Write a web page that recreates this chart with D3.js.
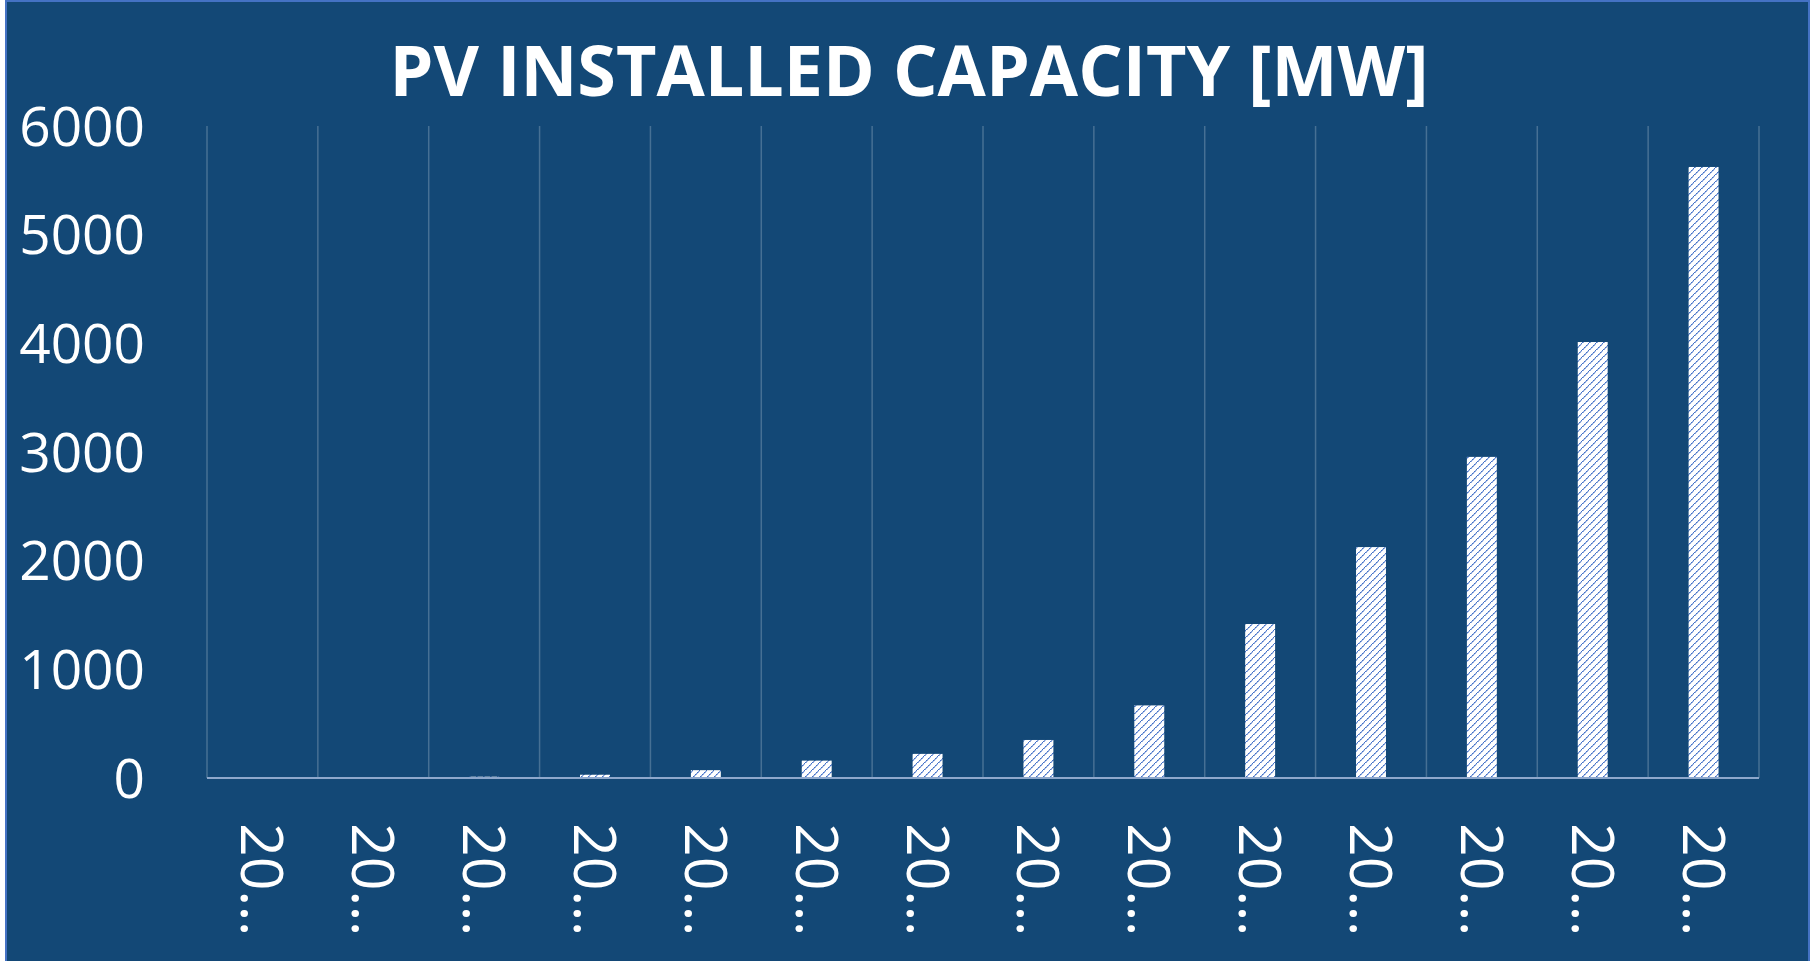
<!DOCTYPE html>
<html>
<head>
<meta charset="utf-8">
<script src="https://cdn.jsdelivr.net/npm/d3@7"></script>
<style>
  html, body { margin: 0; padding: 0; background: #ffffff; }
  svg { display: block; }
</style>
</head>
<body>
<div id="chart"></div>
<script>
const title = 'PV INSTALLED CAPACITY [MW]'
const years = ['2010', '2011', '2012', '2013', '2014', '2015', '2016', '2017', '2018', '2019', '2020', '2021', '2022', '2023']
const capacity = [2, 3, 12, 30, 72, 160, 222, 350, 668, 1417, 2125, 2955, 4012, 5623]
const yTicks = [0, 1000, 2000, 3000, 4000, 5000, 6000]

const w = 1811
const h = 961
const margin = {top: 126, right: 52, bottom: 183, left: 207}

const svg = d3.select('#chart')
    .append('svg')
    .attr('width', w)
    .attr('height', h)

// background + thin frame
svg.append('rect')
    .attr('x', 6)
    .attr('y', 1)
    .attr('width', w - 8)
    .attr('height', h + 10)
    .attr('fill', '#134876')
    .attr('stroke', '#4472c4')
    .attr('stroke-width', 2)

// diagonal hatch like the office "wide upward diagonal" fill
const defs = svg.append('defs')
const pat = defs.append('pattern')
    .attr('id', 'hatch')
    .attr('patternUnits', 'userSpaceOnUse')
    .attr('width', 7)
    .attr('height', 7)
pat.append('rect').attr('width', 7).attr('height', 7).attr('fill', '#ffffff')
d3.range(7).forEach(k => {
    pat.append('rect')
        .attr('x', k)
        .attr('y', 6 - k)
        .attr('width', 1.6)
        .attr('height', 1)
        .attr('fill', k % 2 === 0 ? '#4270c6' : '#7f9fdc')
})

const x = d3.scaleBand()
    .domain(years)
    .range([margin.left, w - margin.right])
    .paddingInner(0)
    .paddingOuter(0)

const y = d3.scaleLinear()
    .domain([0, 6000])
    .range([h - margin.bottom, margin.top])

const g = svg.append('g')

// vertical gridlines at category borders
const borders = years.map(d => x(d)).concat([x(years[years.length - 1]) + x.bandwidth()])
g.selectAll('.grid')
    .data(borders)
    .enter()
    .append('line')
    .attr('class', 'grid')
    .attr('x1', d => d)
    .attr('x2', d => d)
    .attr('y1', y(6000))
    .attr('y2', y(0))
    .attr('stroke', '#ffffff')
    .attr('stroke-opacity', 0.22)
    .attr('stroke-width', 1.5)

// bars
const barW = x.bandwidth() * 0.27
g.selectAll('.bar')
    .data(capacity)
    .enter()
    .append('rect')
    .attr('class', 'bar')
    .attr('x', (d, i) => x(years[i]) + x.bandwidth() / 2 - barW / 2)
    .attr('y', d => y(d))
    .attr('width', barW)
    .attr('height', d => y(0) - y(d))
    .attr('fill', 'url(#hatch)')

// category axis line
g.append('line')
    .attr('x1', x.range()[0])
    .attr('x2', x.range()[1])
    .attr('y1', y(0))
    .attr('y2', y(0))
    .attr('stroke', '#8ea8cc')
    .attr('stroke-width', 2)

// y tick labels
g.selectAll('.ytick')
    .data(yTicks)
    .enter()
    .append('text')
    .attr('class', 'ytick')
    .attr('x', 145)
    .attr('y', d => y(d))
    .attr('dy', '0.36em')
    .attr('text-anchor', 'end')
    .attr('fill', '#ffffff')
    .style('font-family', '"Open Sans", sans-serif')
    .style('font-size', '55px')
    .text(d => d)

// x labels, rotated and cut like the original ("20…")
g.selectAll('.xtick')
    .data(years)
    .enter()
    .append('text')
    .attr('class', 'xtick')
    .attr('transform', d => `translate(${x(d) + x.bandwidth() / 2 - 21}, ${y(0) + 45}) rotate(90)`)
    .attr('fill', '#ffffff')
    .style('font-family', '"Open Sans", sans-serif')
    .style('font-size', '59px')
    .text(d => d.slice(0, 2) + '…')

// title
svg.append('text')
    .attr('x', 909)
    .attr('y', 96)
    .attr('text-anchor', 'middle')
    .attr('fill', '#ffffff')
    .style('font-family', '"Open Sans", sans-serif')
    .style('font-weight', 'bold')
    .style('font-size', '70px')
    .text(title)
</script>
</body>
</html>
